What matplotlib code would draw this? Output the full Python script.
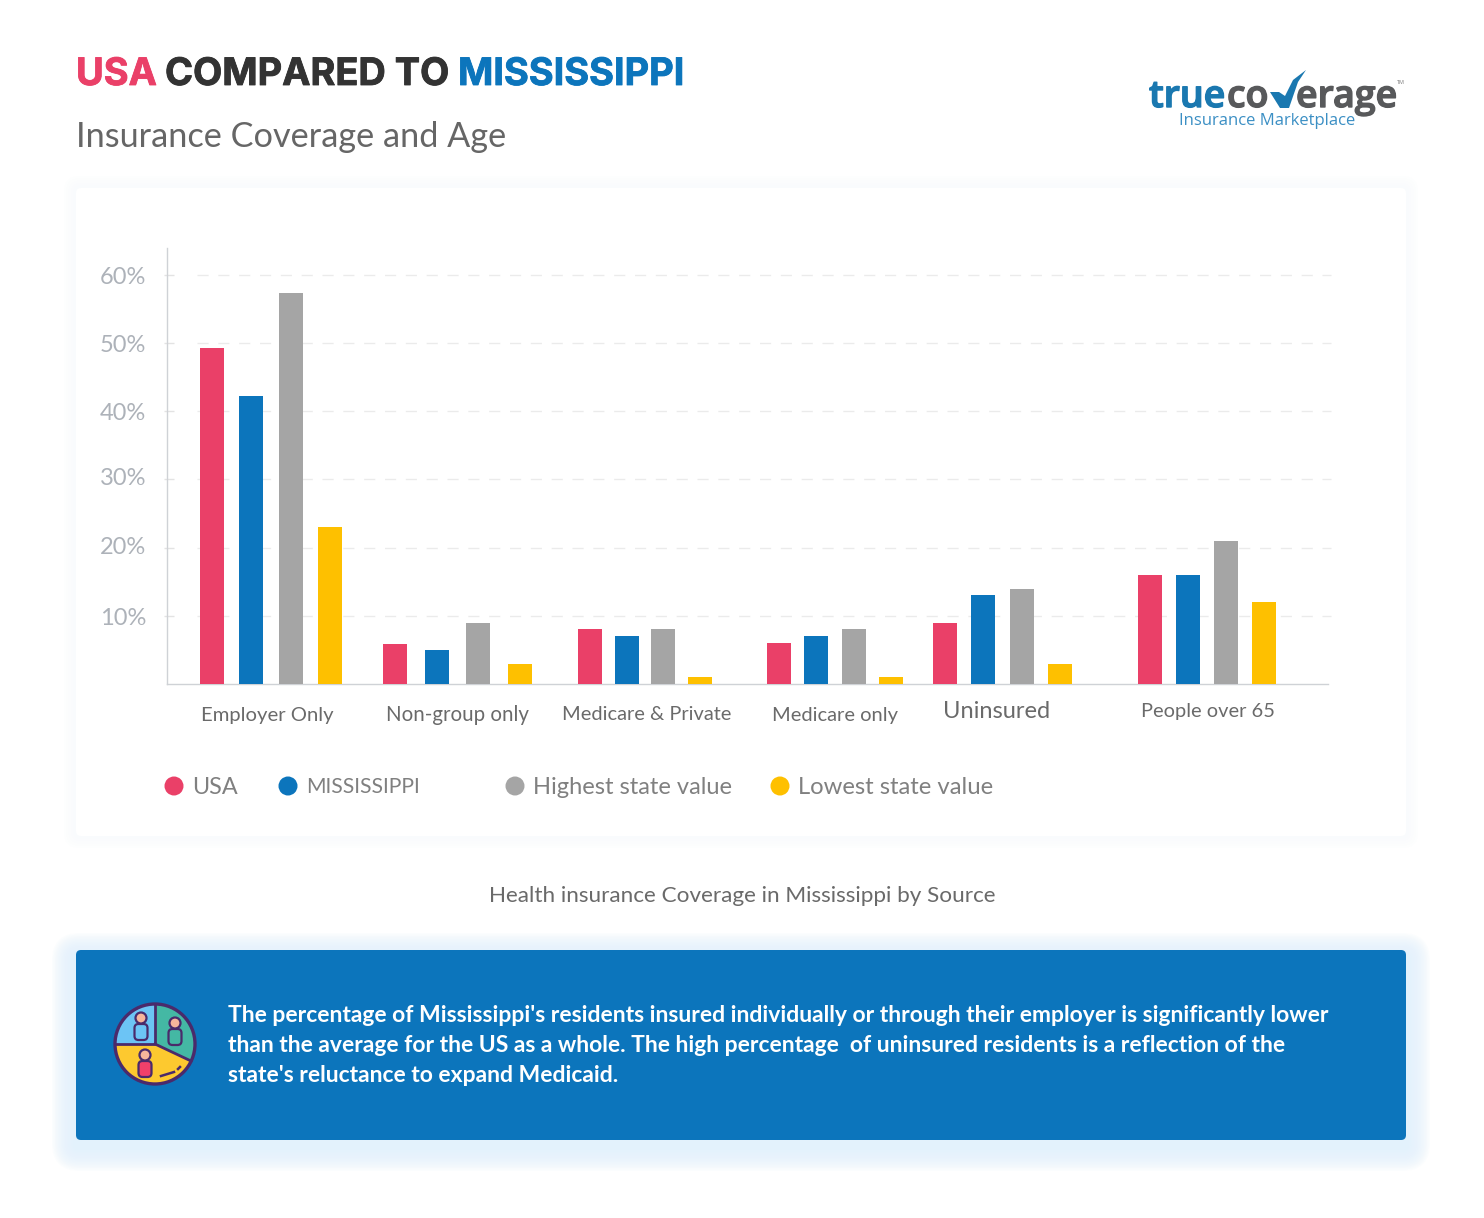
import matplotlib
matplotlib.use('Agg')
import matplotlib.pyplot as plt
import matplotlib.patheffects as pe
from matplotlib.patches import FancyBboxPatch, Wedge, Circle, Polygon
from matplotlib.transforms import ScaledTranslation

# data
categories = ['Employer Only', 'Non-group only', 'Medicare & Private', 'Medicare only', 'Uninsured', 'People over 65']
usa = [49.3, 5.8, 8, 6, 9, 16]
mississippi = [42.3, 5, 7, 7, 13, 16]
highest = [57.4, 9, 8, 8, 14, 21]
lowest = [23, 3, 1, 1, 3, 12]
series_names = ['USA', 'MISSISSIPPI', 'Highest state value', 'Lowest state value']
y_ticks = [10, 20, 30, 40, 50, 60]

RED = '#ea4068'
BLUE = '#0c75bc'
GREY = '#a5a5a5'
YELLOW = '#fec000'
colors = [RED, BLUE, GREY, YELLOW]

W, H = 1484, 1218
fig = plt.figure(figsize=(W / 100, H / 100), dpi=100, facecolor='white')

# overlay in pixel coords for cards, titles and so on
ov = fig.add_axes([0, 0, 1, 1])
ov.set_xlim(0, W)
ov.set_ylim(H, 0)
ov.axis('off')


def card(x0, y0, x1, y1, color, glow, steps=8, spread=22, alpha=0.2, dy=6):
    for i in range(steps):
        g = spread * (1 - i / steps)
        ov.add_patch(FancyBboxPatch((x0 - g, y0 - g + dy), x1 - x0 + 2 * g, y1 - y0 + 2 * g,
                                    boxstyle='round,pad=0,rounding_size=%f' % (g + 4),
                                    fc=glow, ec='none', alpha=alpha))
    ov.add_patch(FancyBboxPatch((x0, y0), x1 - x0, y1 - y0, boxstyle='round,pad=0,rounding_size=5',
                                fc=color, ec='none'))


card(76, 188, 1406, 836, 'white', '#f8fbfd', steps=5, spread=12, alpha=0.2, dy=0)
card(76, 950, 1406, 1140, BLUE, '#e3f2fc', steps=16, spread=24, alpha=0.12, dy=7)

# title
for txt, x, c in [('USA', 76, RED), ('COMPARED TO', 165, '#333333'), ('MISSISSIPPI', 458, BLUE)]:
    t = ov.text(x, 75, txt, color=c, family='Inter', fontsize=27.3, fontweight='bold', va='center')
    t.set_path_effects([pe.withStroke(linewidth=0.6, foreground=c)])
ov.text(76, 137, 'Insurance Coverage and Age', color='#666666', family='Lato', fontsize=24.7, va='center')

# bars
left, right, bottom, top = 167, 1328, 684, 248
ax = fig.add_axes([left / W, 1 - bottom / H, (right - left) / W, (bottom - top) / H])
ax.patch.set_alpha(0)
ax.set_xlim(left, right)
ax.set_ylim(0, (bottom - top) / 6.82)

bar_x = [[212, 251, 291, 330], [395, 437, 478, 520], [590, 627, 663, 700],
         [779, 816, 854, 891], [945, 983, 1022, 1060], [1150, 1188, 1226, 1264]]
for k, vals in enumerate([usa, mississippi, highest, lowest]):
    ax.bar([g[k] for g in bar_x], vals, width=24.5, color=colors[k], zorder=3)

ax.hlines(y_ticks, 197, 1331, colors='#ebebeb', linewidth=1, linestyles=(0, (8, 7)), zorder=1, clip_on=False)
ax.hlines(y_ticks, 164, 174, colors='#e3e3e3', linewidth=1, zorder=1, clip_on=False)
ax.set_yticks(y_ticks)
ax.set_yticklabels(['%d%%' % t for t in y_ticks], family='Lato', fontsize=17, color='#adb2b9')
ax.tick_params(axis='y', length=0, pad=15)
ax.tick_params(axis='x', length=0, labelbottom=False)
# the labels sit a bit off their gridlines in the original
for lab, dy in zip(ax.get_yticklabels(), [-1, 2, 3, 0, 0, -1]):
    lab.set_transform(lab.get_transform() + ScaledTranslation(0, dy / 100, fig.dpi_scale_trans))
for s in ['top', 'right']:
    ax.spines[s].set_visible(False)
for s in ['left', 'bottom']:
    ax.spines[s].set_color('#cfd2d6')
    ax.spines[s].set_linewidth(1)

# category labels
label_pos = [(267, 715, 14.6), (457, 715, 14.8), (647, 715, 14.4), (835, 715, 14.5), (997, 712, 17), (1208, 712, 14.4)]
for c, (x, y, fs) in zip(categories, label_pos):
    ov.text(x, y, c, ha='center', va='center', family='Lato', fontsize=fs, color='#6a6a6a')

# legend
dot_x = [174, 288, 515, 780]
text_x = [192, 306, 533, 798]
legend_fs = [16.8, 15.2, 17, 17.2]
for name, c, dx, tx, fs in zip(series_names, colors, dot_x, text_x, legend_fs):
    ov.add_patch(Circle((dx, 786), 9.5, fc=c, ec='none'))
    ov.text(tx, 787, name, va='center', family='Lato', fontsize=fs, color='#808080')

ov.text(742, 896, 'Health insurance Coverage in Mississippi by Source', ha='center', va='center',
        family='Lato', fontsize=16.2, color='#6a6a6a')

# blue box text
body = ["The percentage of Mississippi's residents insured individually or through their employer is significantly lower",
        "than the average for the US as a whole. The high percentage  of uninsured residents is a reflection of the",
        "state's reluctance to expand Medicaid."]
for i, line in enumerate(body):
    ov.text(228, 1016 + i * 30, line, va='center', family='Lato', fontsize=16.45, fontweight='bold', color='white')

# icon
cx, cy, r = 155, 1044, 40
# ylim is inverted so angles run clockwise on screen
ov.add_patch(Wedge((cx, cy), r, 180, 270, fc='#6cc4f5', ec='none'))
ov.add_patch(Wedge((cx, cy), r, 270, 25, fc='#44b8a4', ec='none'))
ov.add_patch(Wedge((cx, cy), r, 25, 180, fc='#fdc92f', ec='none'))
ov.add_patch(Circle((cx, cy), r, fc='none', ec='#4a2a6b', lw=2.4))
ov.plot([cx - r, cx, cx], [cy, cy, cy - r], color='#4a2a6b', lw=2)
ov.plot([cx, cx + 36], [cy, cy + 17], color='#4a2a6b', lw=2)
for px, py, fc in [(141, 1018, '#6cc4f5'), (175, 1023, '#44b8a4'), (145, 1055, '#f0406a')]:
    ov.add_patch(FancyBboxPatch((px - 6.5, py + 6), 13, 16, boxstyle='round,pad=0,rounding_size=4',
                                fc=fc, ec='#4a2a6b', lw=1.6))
    ov.add_patch(Circle((px, py), 5.5, fc='#f6b59b', ec='#4a2a6b', lw=1.6))
ov.plot([161, 174], [1076, 1072], color='#4a2a6b', lw=1.8)
ov.plot([178, 180], [1069, 1067], color='#4a2a6b', lw=1.8)

# logo
logo_font = dict(family='Open Sans', fontsize=27, fontweight='semibold', va='center')
for txt, x, c in [('true', 1149, '#1a78b0'), ('co', 1227, '#58595b'), ('erage', 1296, '#58595b')]:
    t = ov.text(x, 97, txt, color=c, **logo_font)
    t.set_path_effects([pe.withStroke(linewidth=1.0, foreground=c)])
ov.text(1179, 121, 'Insurance Marketplace', color='#3b8fc4', family='Open Sans', fontsize=12, va='center')
ov.text(1397, 82, 'TM', color='#777777', family='Open Sans', fontsize=4, va='center')
ov.add_patch(Polygon([(1270, 92), (1279, 92), (1285, 96), (1293, 80), (1306, 70), (1298, 82), (1289, 108), (1280, 108)],
                     closed=True, fc='#1a78b0', ec='none', zorder=5))

fig.savefig('out.png', dpi=100)
